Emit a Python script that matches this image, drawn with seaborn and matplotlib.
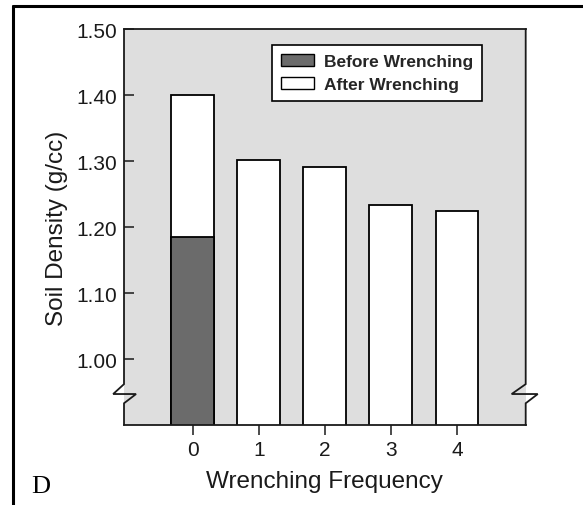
import numpy as np
import pandas as pd
import matplotlib.pyplot as plt
import matplotlib.transforms as mtransforms
from matplotlib.patches import Patch
from matplotlib.lines import Line2D
import seaborn as sns

# Tema
sns.set_theme(style="ticks")
plt.rcParams['font.family'] = ['Liberation Sans', 'DejaVu Sans']

# Data lest fra figuren
frekvens = ['0', '1', '2', '3', '4']
etter = [1.40, 1.302, 1.291, 1.233, 1.225]
foer = [1.185, np.nan, np.nan, np.nan, np.nan]

df = pd.DataFrame({'frekvens': frekvens, 'etter': etter, 'foer': foer})

fig = plt.figure(figsize=(5.83, 5.06), dpi=100)
ax = fig.add_axes([0.2127, 0.158, 0.6890, 0.7827])
ax.set_facecolor('#dedede')

sns.barplot(data=df, x='frekvens', y='etter', order=frekvens, color='white',
            edgecolor='black', linewidth=1.3, width=0.65, saturation=1, ax=ax)
sns.barplot(data=df.dropna(), x='frekvens', y='foer', order=frekvens, color='#6b6b6b',
            edgecolor='black', linewidth=1.3, width=0.65, saturation=1, ax=ax)

ax.set_ylim(0.90, 1.50)
ax.set_xlim(-1.04, 5.04)
ax.set_yticks([1.00, 1.10, 1.20, 1.30, 1.40, 1.50])
ax.set_yticklabels(['1.00', '1.10', '1.20', '1.30', '1.40', '1.50'])

ax.tick_params(axis='y', direction='in', length=7.5, width=1.1, pad=5,
               labelsize=15, colors='#1a1a1a')
ax.tick_params(axis='x', direction='out', length=7.5, width=1.1, pad=3,
               labelsize=15, colors='#1a1a1a')

ax.set_xlabel('Wrenching Frequency', fontsize=17.5, labelpad=8, color='#1a1a1a')
ax.set_ylabel('Soil Density (g/cc)', fontsize=17.5, labelpad=6, color='#1a1a1a')

for side in ['top', 'bottom']:
    ax.spines[side].set_linewidth(1.3)
    ax.spines[side].set_color('#1a1a1a')
ax.spines['left'].set_visible(False)
ax.spines['right'].set_visible(False)

# Sider med bruddmerke
trans = mtransforms.blended_transform_factory(ax.transAxes, ax.transData)
venstre_x = [0, 0, 0.030, -0.027, 0, 0]
hoeyre_x = [1, 1, 1.030, 0.965, 1, 1]
brudd_y = [0.90, 0.933, 0.947, 0.947, 0.962, 1.50]
for xs in (venstre_x, hoeyre_x):
    ax.add_line(Line2D(xs, brudd_y, transform=trans, color='#1a1a1a',
                       linewidth=1.3, clip_on=False, solid_joinstyle='miter'))

# Legende
handles = [Patch(facecolor='#6b6b6b', edgecolor='black', linewidth=1.0, label='Before Wrenching'),
           Patch(facecolor='white', edgecolor='black', linewidth=1.0, label='After Wrenching')]
leg = ax.legend(handles=handles, loc='upper right', bbox_to_anchor=(0.891, 0.96),
                borderaxespad=0, fancybox=False, framealpha=1, edgecolor='black',
                prop={'weight': 'bold', 'size': 12.5}, handlelength=1.9,
                handleheight=0.75, handletextpad=0.6, borderpad=0.5, labelspacing=0.45)
leg.get_frame().set_linewidth(1.2)

# Ramme og bokstav
fig.add_artist(Line2D([0.022, 0.022], [0.986, 0.0], transform=fig.transFigure,
                      color='black', linewidth=2.2))
fig.add_artist(Line2D([0.022, 1.0], [0.986, 0.986], transform=fig.transFigure,
                      color='black', linewidth=2.2))
fig.text(0.054, 0.026, 'D', fontsize=19, family=['Liberation Serif', 'DejaVu Serif'],
         color='black')

fig.savefig('out.png', dpi=100)
